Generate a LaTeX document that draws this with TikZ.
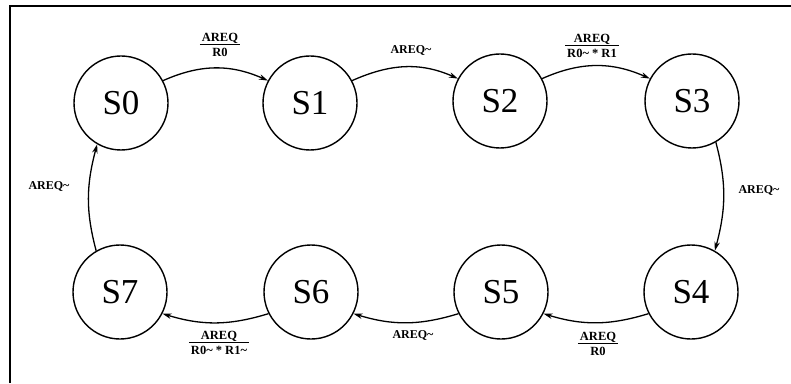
\documentclass[tikz,border=0pt]{standalone}
\usepackage{fontspec}
\setmainfont{Liberation Serif}
\usetikzlibrary{arrows.meta}
\tikzset{
  state/.style={circle,draw,line width=1.4pt,minimum size=94pt,inner sep=0pt,font=\fontsize{35}{35}\selectfont},
  trans/.style={line width=1.3pt,-{Stealth[length=9pt,width=5.5pt]}},
  lbl/.style={font=\fontsize{12}{13}\selectfont\bfseries,inner sep=0pt},
  frac/.style={font=\fontsize{12.5}{13.5}\selectfont\bfseries,inner sep=0pt}
}
\newcommand{\fr}[2]{\begin{tabular}{@{\,}c@{\,}}#1\\[-1pt]\hline\rule{0pt}{11.5pt}#2\end{tabular}}
\begin{document}
\begin{tikzpicture}[x=1pt,y=1pt]
\useasboundingbox (0,0) rectangle (791,383);
\draw[line width=1.6pt] (10,0) -- (10,377) -- (791,377);
\node[state] (S0) at (121,280) {S0};
\node[state] (S1) at (310,280) {S1};
\node[state] (S2) at (500,282) {S2};
\node[state] (S3) at (692,282) {S3};
\node[state] (S4) at (691,91) {S4};
\node[state] (S5) at (501,91) {S5};
\node[state] (S6) at (311,91) {S6};
\node[state] (S7) at (120,91) {S7};
\draw[trans] (S0.28) to[out=24,in=156] (S1.152);
\draw[trans] (S1.28) to[out=24,in=156] (S2.152);
\draw[trans] (S2.28) to[out=24,in=156] (S3.152);
\draw[trans] (S3.-60) to[out=-75,in=75] (S4.60);
\draw[trans] (S4.207) to[out=197,in=-17] (S5.-27);
\draw[trans] (S5.207) to[out=197,in=-17] (S6.-27);
\draw[trans] (S6.207) to[out=197,in=-17] (S7.-27);
\draw[trans] (S7.120) to[out=105,in=-105] (S0.240);
\node[frac] (l01) at (220,337) {\fr{AREQ}{R0}};
\node[lbl] (l12) at (411,332) {AREQ\textasciitilde};
\node[frac] (l23) at (592,336) {\fr{AREQ}{R0\textasciitilde\ * R1}};
\node[lbl] (l34) at (759,192) {AREQ\textasciitilde};
\node[frac] (l45) at (598,38) {\fr{AREQ}{R0}};
\node[lbl] (l56) at (413,48) {AREQ\textasciitilde};
\node[frac] (l67) at (219,39) {\fr{AREQ}{R0\textasciitilde\ * R1\textasciitilde}};
\node[lbl] (l70) at (49,196) {AREQ\textasciitilde};
\end{tikzpicture}
\end{document}
